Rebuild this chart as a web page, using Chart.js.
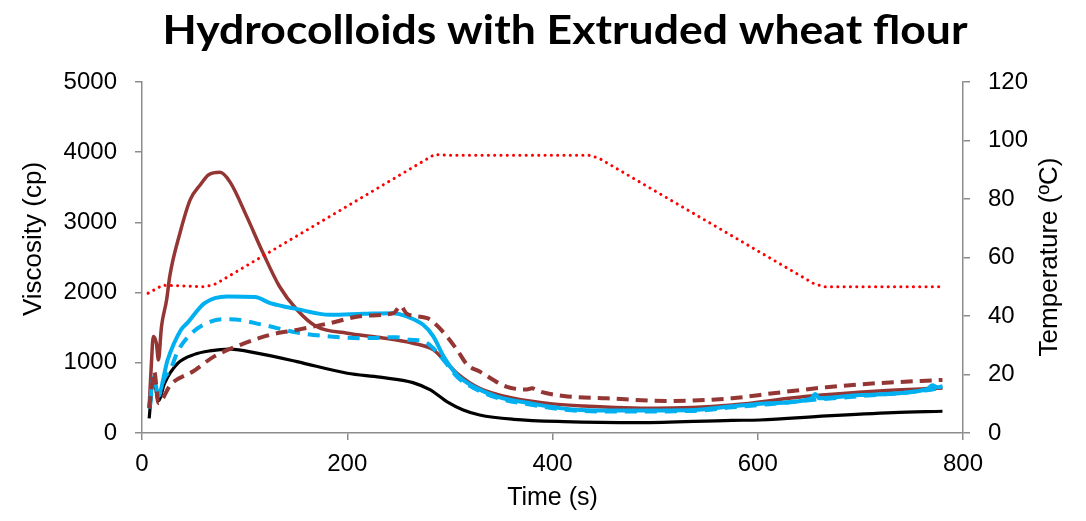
<!DOCTYPE html>
<html>
<head>
<meta charset="utf-8">
<script src="https://cdn.jsdelivr.net/npm/chart.js@4.4.1/dist/chart.umd.min.js"></script>
<style>
    body { margin: 0; background: #fff; }
    .chart-card { position: relative; width: 1086px; height: 521px; }
</style>
</head>
<body>
<div class="chart-card"><canvas id="chartRVA"></canvas></div>
<script>
// datos (tiempo en s, viscosidad en cp, temperatura en ºC)
const tiempoNegro = [7, 11, 16, 22, 35, 51, 66, 86, 112, 151, 200, 232, 264, 281, 297, 313, 329, 362, 411, 485, 575, 602, 667, 732, 780];
const viscNegro = [209, 790, 460, 709, 994, 1120, 1170, 1194, 1137, 1017, 851, 795, 718, 613, 447, 328, 257, 195, 162, 147, 180, 185, 243, 290, 310];

const tiempoRojo = [7, 9, 11, 14, 16, 19, 24, 27, 37, 47, 57, 65, 76, 86, 102, 118, 134, 151, 170, 200, 232, 264, 284, 294, 307, 329, 362, 400, 430, 500, 575, 646, 718, 780];
const viscRojo = [375, 946, 1374, 1279, 1041, 1517, 1897, 2230, 2849, 3324, 3540, 3680, 3713, 3570, 3086, 2563, 2087, 1755, 1516, 1422, 1360, 1279, 1184, 1041, 851, 637, 495, 415, 385, 352, 399, 520, 600, 640];

const tiempoRojoDisc = [7, 9, 12, 16, 28, 50, 70, 96, 125, 151, 183, 216, 245, 252, 258, 278, 290, 307, 317, 329, 355, 375, 380, 388, 411, 453, 510, 575, 615, 667, 716, 780];
const viscRojoDisc = [356, 600, 875, 428, 690, 880, 1088, 1255, 1398, 1469, 1565, 1669, 1707, 1811, 1698, 1636, 1493, 1184, 970, 875, 661, 620, 637, 590, 528, 495, 456, 495, 566, 652, 709, 756];

const tiempoAzul = [7, 9, 11, 16, 25, 38, 44, 61, 83, 110, 125, 151, 183, 216, 245, 258, 274, 284, 294, 307, 323, 346, 378, 427, 467, 538, 575, 611, 652, 656, 660, 700, 765, 770, 775, 780];
const viscAzul = [350, 600, 790, 560, 1041, 1470, 1565, 1850, 1945, 1936, 1850, 1765, 1683, 1697, 1707, 1660, 1541, 1374, 1088, 827, 661, 518, 423, 328, 320, 328, 380, 423, 490, 555, 495, 542, 623, 680, 650, 665];

const tiempoAzulDisc = [8, 11, 16, 21, 29, 34, 45, 67, 86, 118, 151, 183, 216, 248, 261, 271, 278, 287, 296, 307, 323, 346, 378, 427, 467, 538, 575, 611, 652, 700, 765, 780];
const viscAzulDisc = [400, 780, 520, 756, 946, 1137, 1374, 1588, 1622, 1541, 1431, 1374, 1351, 1365, 1327, 1320, 1279, 1160, 1000, 800, 640, 500, 405, 315, 305, 315, 365, 410, 470, 525, 610, 650];

const tiempoTemp = [6, 20, 62, 72, 285, 295, 435, 445, 655, 665, 780];
const temperatura = [47.8, 50.5, 50, 51, 95.2, 95, 95, 94, 51, 50, 50];

const ticksTiempo = [0, 200, 400, 600, 800];
const ticksVisc = [0, 1000, 2000, 3000, 4000, 5000];
const ticksTemp = [0, 20, 40, 60, 80, 100, 120];

const TITULO = 'Hydrocolloids with Extruded wheat flour';
const TITULO_X = 'Time (s)';
const TITULO_Y = 'Viscosity (cp)';
const TITULO_Y2 = 'Temperature (ºC)';

const COLORES = {
    negro: '#000000',
    rojo: '#943634',
    azul: '#00b0f0',
    temp: '#ff0000',
    eje: '#8c8c8c'
};

const FUENTE = '"Liberation Sans", Arial, sans-serif';

const puntos = (ts, vs) => ts.map((t, i) => ({ x: t, y: vs[i] }));

const serie = (datos, color, extra) => Object.assign({
    data: datos,
    borderColor: color,
    borderWidth: 3.5,
    pointRadius: 0,
    fill: false,
    cubicInterpolationMode: 'monotone',
    yAxisID: 'y'
}, extra);

// titulo principal (estirado al ancho del original) y titulos de los ejes verticales
const textosGrafico = {
    id: 'textosGrafico',
    afterDraw(chart) {
        const ctx = chart.ctx;
        const area = chart.chartArea;
        ctx.save();
        ctx.fillStyle = '#000';
        ctx.textAlign = 'center';
        ctx.textBaseline = 'alphabetic';
        ctx.font = 'bold 40px Lato, sans-serif';
        const ancho = ctx.measureText(TITULO).width;
        ctx.save();
        ctx.translate(565, 44);
        ctx.scale(805 / ancho, 1);
        ctx.fillText(TITULO, 0, 0);
        ctx.restore();

        ctx.font = '26px ' + FUENTE;
        ctx.textBaseline = 'middle';
        [[TITULO_Y, area.left - 108, 239], [TITULO_Y2, area.right + 87, 257]].forEach(([txt, x, y]) => {
            ctx.save();
            ctx.translate(x, y);
            ctx.rotate(-Math.PI / 2);
            ctx.fillText(txt, 0, 0);
            ctx.restore();
        });
        ctx.restore();
    }
};

const ejeComun = (extra) => Object.assign({
    type: 'linear',
    grid: { drawOnChartArea: false, drawTicks: true, tickLength: 7, color: COLORES.eje, lineWidth: 1.5 },
    border: { color: COLORES.eje, width: 1.5 }
}, extra);

const ticksFijos = (valores) => (scale) => {
    scale.ticks = valores.map(v => ({ value: v }));
};

const etiquetasEje = (padding) => ({
    color: '#000',
    padding: padding,
    maxRotation: 0,
    font: { family: FUENTE, size: 24 },
    callback: (valor) => String(valor)
});

new Chart(document.getElementById('chartRVA'), {
    type: 'line',
    data: {
        datasets: [
            serie(puntos(tiempoTemp, temperatura), COLORES.temp, {
                yAxisID: 'y2', borderWidth: 3, borderDash: [0.1, 6.2], borderCapStyle: 'round',
                cubicInterpolationMode: 'default', tension: 0
            }),
            serie(puntos(tiempoRojoDisc, viscRojoDisc), COLORES.rojo, { borderWidth: 4, borderDash: [12, 7] }),
            serie(puntos(tiempoAzulDisc, viscAzulDisc), COLORES.azul, { borderWidth: 4, borderDash: [12, 8] }),
            serie(puntos(tiempoAzul, viscAzul), COLORES.azul, { borderWidth: 4 }),
            serie(puntos(tiempoRojo, viscRojo), COLORES.rojo),
            serie(puntos(tiempoNegro, viscNegro), COLORES.negro, { borderWidth: 3.2 })
        ]
    },
    options: {
        responsive: true,
        maintainAspectRatio: false,
        animation: false,
        layout: { padding: { top: 82, left: 0, right: 0, bottom: 0 } },
        plugins: {
            legend: { display: false },
            tooltip: { enabled: false },
            title: { display: false }
        },
        scales: {
            x: ejeComun({
                position: 'bottom',
                min: 0,
                max: 800,
                afterBuildTicks: ticksFijos(ticksTiempo),
                afterFit: (scale) => { scale.height = 88; },
                ticks: etiquetasEje(10),
                title: { display: true, text: TITULO_X, color: '#000', padding: { top: 0, bottom: 8 }, font: { family: FUENTE, size: 25 } }
            }),
            y: ejeComun({
                position: 'left',
                min: 0,
                max: 5000,
                afterBuildTicks: ticksFijos(ticksVisc),
                afterFit: (scale) => { scale.width = 142; },
                ticks: etiquetasEje(18)
            }),
            y2: ejeComun({
                position: 'right',
                min: 0,
                max: 120,
                afterBuildTicks: ticksFijos(ticksTemp),
                afterFit: (scale) => { scale.width = 123; },
                ticks: etiquetasEje(18)
            })
        }
    },
    plugins: [textosGrafico]
});
</script>
</body>
</html>
